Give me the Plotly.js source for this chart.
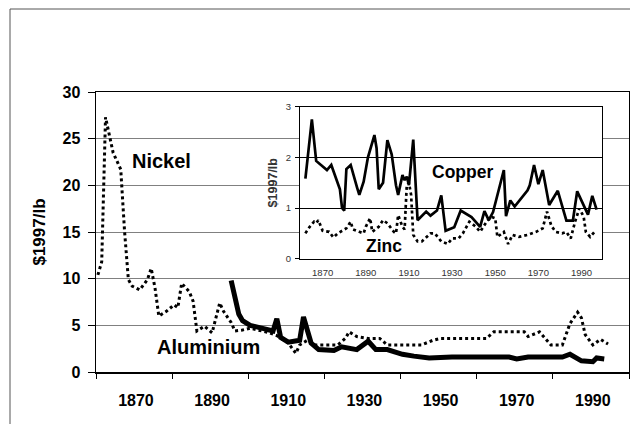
<!DOCTYPE html>
<html>
<head>
<meta charset="utf-8">
<script src="https://cdn.plot.ly/plotly-3.0.1.min.js"></script>
<style>html,body{margin:0;padding:0;background:#fff;}#chart{width:630px;height:424px;}</style>
</head>
<body>
<div id="chart"></div>
<script>
// ---- data (US$ 1997 per lb) ----
const tickYears = [1870, 1890, 1910, 1930, 1950, 1970, 1990];
const tickLabels = ['1870', '1890', '1910', '1930', '1950', '1970', '1990'];

const nickelYears = [1860,1861,1862,1863,1864,1866,1867,1868,1869,1871,1873,1874,1875,1876,1878,1880,1881,1882,1884,1885,1886,1888,1890,1891,1892,1893,1895,1896,1898,1900,1902,1905,1907,1910,1912,1913,1915,1917,1923,1925,1926,1928,1931,1934,1936,1945,1948,1950,1962,1964,1972,1973,1976,1979,1982,1984,1986,1987,1988,1990,1992,1994];
const nickelValues = [10.4,11.8,27.3,25.2,23.5,21.7,15.1,9.9,9.2,8.8,9.9,11.1,9.0,6.0,6.5,7.2,6.9,9.5,8.6,7.6,4.4,4.9,4.2,5.8,7.4,6.5,5.3,4.4,4.5,4.7,4.5,4.2,3.9,3.1,2.0,2.9,3.4,2.9,2.9,3.6,4.3,3.8,3.6,3.6,2.9,2.9,3.4,3.6,3.6,4.3,4.3,3.8,4.3,2.9,2.9,5.2,6.4,5.8,4.0,2.9,3.5,3.0];

const aluminiumYears = [1895,1896,1897,1898,1900,1903,1906,1907,1908,1910,1913,1914,1916,1918,1922,1924,1928,1931,1933,1936,1940,1943,1947,1953,1968,1970,1973,1982,1984,1987,1990,1991,1993];
const aluminiumValues = [9.8,7.8,6.2,5.5,5.0,4.7,4.4,5.7,3.7,3.2,3.4,5.9,3.1,2.4,2.3,2.7,2.4,3.3,2.4,2.4,1.9,1.7,1.5,1.6,1.6,1.4,1.6,1.6,1.9,1.2,1.1,1.5,1.4];

const copperYears = [1862,1865,1867,1870,1872,1874,1876,1878,1879,1880,1881,1883,1886,1887,1889,1891,1894,1895,1896,1898,1900,1902,1904,1905,1907,1908,1909,1910,1912,1914,1918,1920,1923,1925,1927,1931,1934,1939,1943,1945,1947,1949,1954,1955,1957,1959,1965,1966,1968,1970,1972,1975,1979,1983,1986,1988,1993,1995,1997];
const copperValues = [1.58,2.75,1.93,1.83,1.75,1.85,1.60,1.37,1.00,0.95,1.77,1.85,1.40,1.26,1.52,2.00,2.44,2.18,1.37,1.50,2.34,2.06,1.45,1.26,1.65,1.55,1.62,1.45,2.35,0.76,0.93,0.85,0.95,1.25,0.55,0.62,0.95,0.82,0.63,0.94,0.76,0.92,1.75,0.84,1.15,1.03,1.35,1.45,1.85,1.47,1.75,1.06,1.34,0.75,0.75,1.33,0.87,1.24,0.97];

const zincYears = [1862,1864,1866,1867,1868,1870,1873,1875,1877,1881,1883,1884,1887,1889,1890,1892,1893,1896,1898,1900,1903,1904,1905,1907,1908,1909,1910,1911,1912,1914,1916,1920,1922,1925,1928,1930,1933,1935,1938,1941,1943,1946,1948,1950,1951,1954,1956,1958,1961,1965,1969,1972,1974,1976,1978,1981,1983,1985,1987,1989,1991,1992,1994,1996,1997];
const zincValues = [0.50,0.63,0.73,0.70,0.76,0.55,0.53,0.42,0.50,0.60,0.73,0.58,0.53,0.50,0.63,0.80,0.53,0.63,0.76,0.70,0.53,0.50,0.86,0.63,0.58,1.45,1.50,1.26,0.47,0.34,0.34,0.50,0.50,0.34,0.29,0.40,0.40,0.50,0.73,0.63,0.53,0.73,0.83,0.80,0.43,0.53,0.29,0.47,0.43,0.47,0.53,0.60,0.93,0.65,0.53,0.50,0.53,0.40,0.73,0.99,0.83,0.53,0.43,0.53,0.55];

const seriesLabels = {nickel: 'Nickel', aluminium: 'Aluminium', copper: 'Copper', zinc: 'Zinc'};
const yTitle = '$1997/lb';

// ---- layout helpers (pixel -> paper) ----
const W = 630, H = 424;
const px = v => v / W;
const py = v => 1 - v / H;
const FONT = 'Liberation Sans, Arial, Helvetica, sans-serif';

const traces = [
  {x: nickelYears, y: nickelValues, type: 'scatter', mode: 'lines', xaxis: 'x', yaxis: 'y',
   line: {color: '#000', width: 3, dash: 'dot'}, hoverinfo: 'skip'},
  {x: aluminiumYears, y: aluminiumValues, type: 'scatter', mode: 'lines', xaxis: 'x', yaxis: 'y',
   line: {color: '#000', width: 5}, hoverinfo: 'skip'},
  {x: copperYears, y: copperValues, type: 'scatter', mode: 'lines', xaxis: 'x3', yaxis: 'y3',
   line: {color: '#000', width: 2.7}, hoverinfo: 'skip'},
  {x: zincYears, y: zincValues, type: 'scatter', mode: 'lines', xaxis: 'x3', yaxis: 'y3',
   line: {color: '#000', width: 2.7, dash: 'dot'}, hoverinfo: 'skip'}
];

const layout = {
  width: W, height: H,
  margin: {l: 0, r: 0, t: 0, b: 0},
  paper_bgcolor: '#fff', plot_bgcolor: '#fff',
  showlegend: false,
  font: {family: FONT, color: '#000'},
  xaxis: {
    domain: [px(96), px(629)], anchor: 'y',
    range: [1859.5, 1999.5], tickmode: 'array', tickvals: tickYears, ticktext: tickLabels,
    ticks: '', showgrid: false, zeroline: false,
    showline: true, linecolor: '#000', linewidth: 1.5, mirror: true,
    tickfont: {family: FONT, size: 16, weight: 'bold', color: '#000'},
    ticklabelstandoff: 13,
    minor: {tickmode: 'linear', tick0: 1859.5, dtick: 20, ticks: 'outside', ticklen: 5,
            tickcolor: '#000', tickwidth: 1, showgrid: false},
    fixedrange: true
  },
  yaxis: {
    domain: [py(372), py(92)], anchor: 'x',
    range: [0, 30], tickmode: 'linear', tick0: 0, dtick: 5,
    ticks: 'outside', ticklen: 7, tickcolor: '#000', tickwidth: 1,
    showgrid: true, gridcolor: '#808080', gridwidth: 1, zeroline: false,
    showline: true, linecolor: '#000', linewidth: 1.5, mirror: true,
    tickfont: {family: FONT, size: 16, weight: 'bold', color: '#000'},
    ticklabelstandoff: 4,
    title: {text: yTitle, font: {family: FONT, size: 17, weight: 'bold', color: '#000'}, standoff: 12},
    fixedrange: true
  },
  // inset frame (white box with border)
  xaxis2: {
    domain: [px(255), px(613)], anchor: 'y2', range: [0, 1],
    showticklabels: false, ticks: '', showgrid: false, zeroline: false,
    showline: true, linecolor: '#222', linewidth: 1.5, mirror: true, fixedrange: true
  },
  yaxis2: {
    domain: [py(293), py(87)], anchor: 'x2', range: [0, 1],
    showticklabels: false, ticks: '', showgrid: false, zeroline: false,
    showline: true, linecolor: '#222', linewidth: 1.5, mirror: true, fixedrange: true
  },
  // inset plot
  xaxis3: {
    domain: [px(300), px(602)], anchor: 'y3',
    range: [1859.5, 1999.5], tickmode: 'array', tickvals: tickYears, ticktext: tickLabels,
    ticks: '', showgrid: false, zeroline: false,
    showline: true, linecolor: '#000', linewidth: 1, mirror: true,
    tickfont: {family: FONT, size: 9.5, color: '#333'},
    ticklabelstandoff: 5, fixedrange: true
  },
  yaxis3: {
    domain: [py(258.7), py(106.7)], anchor: 'x3',
    range: [0, 3], tickmode: 'linear', tick0: 0, dtick: 1,
    ticks: 'outside', ticklen: 4, tickcolor: '#000', tickwidth: 1,
    showgrid: true, gridcolor: '#000', gridwidth: 1, zeroline: false,
    showline: true, linecolor: '#000', linewidth: 1, mirror: true,
    tickfont: {family: FONT, size: 9.5, color: '#333'},
    ticklabelstandoff: 2,
    title: {text: yTitle, font: {family: FONT, size: 12.5, weight: 'bold', color: '#333'}, standoff: 5},
    fixedrange: true
  },
  shapes: [
    {type: 'rect', xref: 'paper', yref: 'paper', x0: px(10), x1: 1.05, y0: -0.05, y1: py(9),
     line: {color: '#555', width: 1}, fillcolor: 'rgba(0,0,0,0)', layer: 'below'}
  ],
  annotations: [
    {text: seriesLabels.nickel, xref: 'paper', yref: 'paper', x: px(161), y: py(160.5), showarrow: false,
     xanchor: 'center', yanchor: 'middle', font: {family: FONT, size: 20, weight: 'bold', color: '#000'}},
    {text: seriesLabels.aluminium, xref: 'paper', yref: 'paper', x: px(208), y: py(347), showarrow: false,
     xanchor: 'center', yanchor: 'middle', font: {family: FONT, size: 20, weight: 'bold', color: '#000'}},
    {text: seriesLabels.copper, xref: 'paper', yref: 'paper', x: px(462.5), y: py(171.5), showarrow: false,
     xanchor: 'center', yanchor: 'middle', font: {family: FONT, size: 17.5, weight: 'bold', color: '#000'}},
    {text: seriesLabels.zinc, xref: 'paper', yref: 'paper', x: px(384), y: py(246), showarrow: false,
     xanchor: 'center', yanchor: 'middle', font: {family: FONT, size: 17.5, weight: 'bold', color: '#000'}}
  ]
};

Plotly.newPlot('chart', traces, layout, {staticPlot: true, displayModeBar: false});
</script>
</body>
</html>
